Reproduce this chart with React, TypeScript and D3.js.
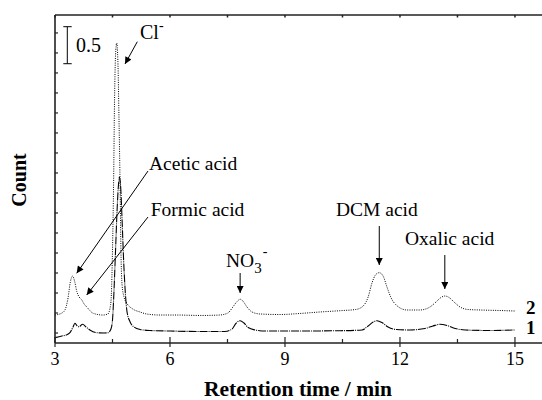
import React from "react";
import * as d3 from "d3";

// Retention time (min) and count for trace 1 (solid) and trace 2 (dotted)
const trace1Time = [3.00,3.18,3.29,3.39,3.47,3.52,3.57,3.63,3.72,3.81,3.91,4.09,4.28,4.38,4.46,4.50,4.54,4.58,4.62,4.66,4.68,4.71,4.75,4.79,4.83,4.88,4.96,5.06,5.22,5.48,6.00,6.78,7.43,7.62,7.72,7.83,7.93,8.04,8.22,8.48,9.39,10.44,11.01,11.17,11.30,11.40,11.53,11.69,11.90,12.26,12.65,12.86,13.04,13.23,13.44,13.70,14.35,15.00];
const trace1Count = [0.072,0.095,0.108,0.139,0.216,0.266,0.236,0.220,0.253,0.216,0.176,0.139,0.135,0.139,0.189,0.311,0.716,1.257,1.797,2.162,2.243,2.135,1.662,1.122,0.716,0.419,0.284,0.216,0.182,0.169,0.162,0.155,0.155,0.189,0.264,0.301,0.270,0.209,0.176,0.162,0.162,0.166,0.176,0.230,0.284,0.301,0.277,0.216,0.182,0.176,0.196,0.230,0.253,0.236,0.196,0.176,0.169,0.176];

const trace2Time = [3.00,3.18,3.26,3.34,3.40,3.46,3.51,3.57,3.63,3.70,3.76,3.83,4.00,4.25,4.38,4.45,4.47,4.50,4.53,4.55,4.58,4.61,4.64,4.67,4.70,4.72,4.75,4.80,4.87,5.03,5.22,5.39,5.74,6.18,6.78,7.30,7.51,7.64,7.75,7.83,7.90,8.01,8.14,8.35,8.87,9.39,9.91,10.51,10.85,11.04,11.17,11.27,11.37,11.46,11.56,11.66,11.77,11.90,12.18,12.52,12.78,12.94,13.07,13.17,13.28,13.41,13.57,13.77,14.09,14.61,15.00];
const trace2Count = [0.378,0.405,0.446,0.608,0.824,0.905,0.838,0.693,0.622,0.581,0.527,0.486,0.401,0.378,0.392,0.514,0.649,1.257,2.203,3.149,3.892,4.054,3.824,3.014,2.068,1.257,0.784,0.622,0.541,0.459,0.419,0.392,0.378,0.378,0.372,0.378,0.405,0.486,0.561,0.591,0.568,0.486,0.419,0.392,0.385,0.399,0.419,0.439,0.453,0.500,0.622,0.811,0.926,0.950,0.905,0.757,0.608,0.514,0.446,0.446,0.486,0.554,0.615,0.635,0.615,0.554,0.486,0.453,0.446,0.439,0.432];

const xTickLabels = [3, 6, 9, 12, 15];
const xMinorTicks = [4.5, 7.5, 10.5, 13.5];
const yTickValues = d3.range(0.135, 4.3, 0.2703);

const FONT = "Liberation Serif, Times New Roman, DejaVu Serif, serif";

export default function App() {
  const W = 542, H = 400;
  const left = 55, right = 542, top = 15, bottom = 343;
  const x = d3.scaleLinear().domain([3, 3 + (right - left) / 38.33]).range([left, right]);
  const y = d3.scaleLinear().domain([0, 4.432]).range([bottom, top]);

  const line = d3.line<[number, number]>().x(d => x(d[0])).y(d => y(d[1])).curve(d3.curveMonotoneX);
  const d1 = line(trace1Time.map((t, i) => [t, trace1Count[i]]) as [number, number][]) || "";
  const d2 = line(trace2Time.map((t, i) => [t, trace2Count[i]]) as [number, number][]) || "";

  const axisColor = "#222";
  const ts = { fontFamily: FONT } as React.CSSProperties;

  return (
    <svg width={W} height={H} style={{ position: "absolute", left: 0, top: 0, background: "#fff", fontFamily: FONT }}>
      <defs>
        <marker id="ah" viewBox="0 0 10 10" refX="10" refY="5" markerWidth="9" markerHeight="7" markerUnits="userSpaceOnUse" orient="auto">
          <path d="M0,0 L10,5 L0,10 Z" fill="#000" />
        </marker>
      </defs>
      <rect x={0} y={0} width={W} height={H} fill="#fff" />

      {/* traces */}
      <path d={d2} fill="none" stroke="#000" strokeWidth={1} strokeDasharray="1,1.3" />
      <path d={d1} fill="none" stroke="#000" strokeWidth={1.1} strokeDasharray="8,1,1,1" />

      {/* frame */}
      <line x1={left} x2={right} y1={top} y2={top} stroke={axisColor} strokeWidth={1.6} />
      <line x1={left} x2={right} y1={bottom} y2={bottom} stroke={axisColor} strokeWidth={1.6} />
      <line x1={left} x2={left} y1={top} y2={bottom} stroke={axisColor} strokeWidth={1.6} />

      {/* ticks */}
      {xTickLabels.map(t => (
        <g key={"xt" + t}>
          <line x1={x(t)} x2={x(t)} y1={bottom - 6} y2={bottom + 4} stroke={axisColor} strokeWidth={1.2} />
          <line x1={x(t)} x2={x(t)} y1={top} y2={top + 2.5} stroke={axisColor} strokeWidth={1.5} />
          <text style={ts} x={x(t)} y={365} fontSize={18} textAnchor="middle">{t}</text>
        </g>
      ))}
      {xMinorTicks.map(t => (
        <g key={"xm" + t}>
          <line x1={x(t)} x2={x(t)} y1={bottom - 4} y2={bottom} stroke={axisColor} strokeWidth={1.2} />
          <line x1={x(t)} x2={x(t)} y1={top} y2={top + 2.5} stroke={axisColor} strokeWidth={1.5} />
        </g>
      ))}
      {yTickValues.map((v, i) => (
        <line key={"yt" + i} x1={left} x2={left + 3} y1={y(v)} y2={y(v)} stroke={axisColor} strokeWidth={1.2} />
      ))}

      {/* axis titles */}
      <text style={ts} x={298} y={396} fontSize={21.5} fontWeight="bold" textAnchor="middle">Retention time / min</text>
      <text style={ts} transform="translate(25.5,180) rotate(-90)" fontSize={20} fontWeight="bold" textAnchor="middle">Count</text>

      {/* scale bar */}
      <line x1={67.3} x2={67.3} y1={26.7} y2={26.7 + (y(0) - y(0.5))} stroke="#000" strokeWidth={1} />
      <line x1={63.3} x2={71.7} y1={26.7} y2={26.7} stroke="#000" strokeWidth={1} />
      <line x1={63.3} x2={71.7} y1={26.7 + (y(0) - y(0.5))} y2={26.7 + (y(0) - y(0.5))} stroke="#000" strokeWidth={1} />
      <text style={ts} x={76} y={52} fontSize={20}>0.5</text>

      {/* annotations */}
      <text style={ts} x={140} y={39} fontSize={20}>Cl<tspan fontSize={14} dy={-9}>-</tspan></text>
      <line x1={137.3} y1={41.7} x2={125} y2={64} stroke="#000" strokeWidth={1} markerEnd="url(#ah)" />

      <text style={ts} x={149} y={170} fontSize={19.5}>Acetic acid</text>
      <line x1={148} y1={171} x2={76.7} y2={273.3} stroke="#000" strokeWidth={1} markerEnd="url(#ah)" />

      <text style={ts} x={150.7} y={216} fontSize={19.5}>Formic acid</text>
      <line x1={148} y1={217} x2={86.7} y2={295} stroke="#000" strokeWidth={1} markerEnd="url(#ah)" />

      <text style={ts} x={226} y={266.5} fontSize={19.5}>NO<tspan fontSize={15} dy={6}>3</tspan><tspan fontSize={14} dx={1} dy={-17}>-</tspan></text>
      <line x1={x(7.83)} y1={273} x2={x(7.83)} y2={293} stroke="#000" strokeWidth={1} markerEnd="url(#ah)" />

      <text style={ts} x={336} y={216} fontSize={19.5}>DCM acid</text>
      <line x1={x(11.46)} y1={226} x2={x(11.46)} y2={265} stroke="#000" strokeWidth={1} markerEnd="url(#ah)" />

      <text style={ts} x={405} y={245} fontSize={19.5}>Oxalic acid</text>
      <line x1={x(13.17)} y1={255} x2={x(13.17)} y2={289} stroke="#000" strokeWidth={1} markerEnd="url(#ah)" />

      {/* trace labels */}
      <text style={ts} x={526} y={314} fontSize={19} fontWeight="bold">2</text>
      <text style={ts} x={526} y={334} fontSize={19} fontWeight="bold">1</text>
    </svg>
  );
}
